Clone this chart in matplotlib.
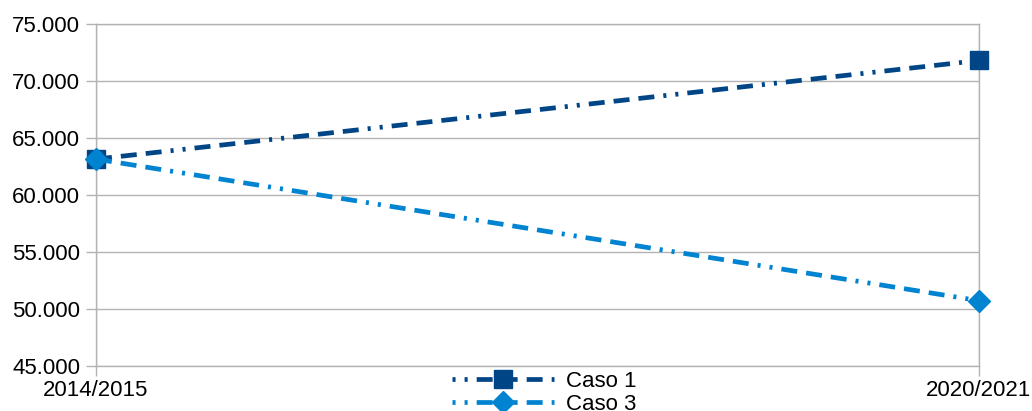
import matplotlib
matplotlib.use("Agg")
import matplotlib.pyplot as plt
from matplotlib.lines import Line2D
from matplotlib.ticker import FuncFormatter

plt.rcParams['font.family'] = ['Liberation Sans', 'DejaVu Sans']
plt.rcParams['lines.scale_dashes'] = False

periods = ['2014/2015', '2020/2021']
caso1 = [63150, 71800]
caso3 = [63150, 50730]

c1_color = '#004586'
c3_color = '#0084d1'
grid_color = '#b3b3b3'
pattern = (11.5, 6.5, 11.5, 6.5, 11.5, 6.5, 2.2, 6.5, 2.2, 6.5)
dash = (0, pattern)
dash_leg = (54, pattern)  # legend starts on the dots

fig = plt.figure(figsize=(10.32, 4.11), dpi=100)
ax = fig.add_axes([96 / 1032, 1 - 366 / 411, (979 - 96) / 1032, (366 - 24) / 411])

x = list(range(len(periods)))
ax.plot(x, caso1, color=c1_color, lw=3.4, linestyle=dash, dash_capstyle='butt',
        marker='s', markersize=13, clip_on=False, zorder=3)
ax.plot(x, caso3, color=c3_color, lw=3.4, linestyle=dash, dash_capstyle='butt',
        marker='D', markersize=11, clip_on=False, zorder=4)

ax.set_xlim(0, 1)
ax.set_ylim(45000, 75000)
ax.set_yticks(range(45000, 75001, 5000))
ax.yaxis.set_major_formatter(FuncFormatter(lambda v, p: f"{v:,.0f}".replace(',', '.')))
ax.set_xticks(x)
ax.set_xticklabels(periods)

ax.grid(True, color=grid_color, lw=1)
ax.set_axisbelow(True)
for s in ax.spines.values():
    s.set_color(grid_color)
    s.set_linewidth(1)
ax.tick_params(axis='both', colors=grid_color, labelcolor='black', labelsize=16,
               length=7, width=1)
ax.tick_params(axis='y', pad=4.5)
ax.tick_params(axis='x', pad=3)

handles = [
    Line2D([], [], color=c1_color, lw=3.4, linestyle=dash_leg, dash_capstyle='butt',
           marker='s', markersize=13),
    Line2D([], [], color=c3_color, lw=3.4, linestyle=dash_leg, dash_capstyle='butt',
           marker='D', markersize=11),
]
fig.legend(handles, ['Caso 1', 'Caso 3'], loc='upper left',
           bbox_to_anchor=(452 / 1032, 1 - 371 / 411),
           frameon=False, fontsize=16, handlelength=4.6, handletextpad=0.55,
           borderpad=0, borderaxespad=0, labelspacing=0.1)

fig.savefig('out.png', dpi=100)
